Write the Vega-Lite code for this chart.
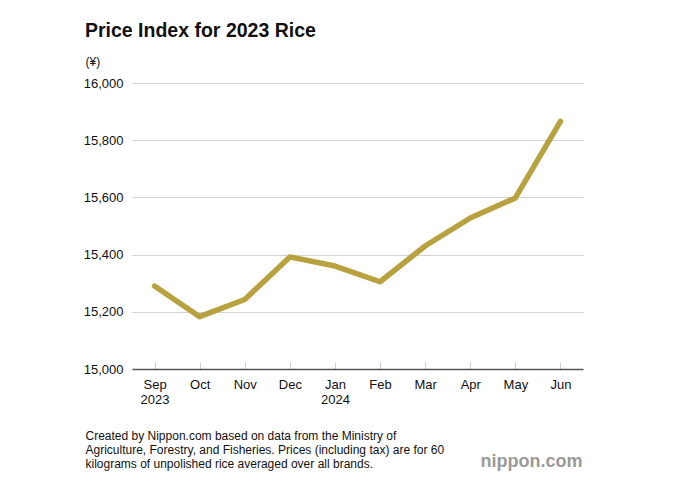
{
  "$schema": "https://vega.github.io/schema/vega-lite/v6.json",
  "autosize": {"type": "none"},
  "width": 451,
  "height": 286,
  "padding": {"left": 132, "top": 83, "right": 92, "bottom": 109},
  "background": "white",
  "config": {
    "font": "Liberation Sans",
    "view": {"stroke": null}
  },
  "title": {
    "text": "Price Index for 2023 Rice",
    "anchor": "start",
    "frame": "group",
    "dx": -47,
    "fontSize": 19.5,
    "fontWeight": "bold",
    "color": "#111111",
    "offset": 14
  },
  "data": {
    "values": [
      {"month": "Sep", "price": 15290},
      {"month": "Oct", "price": 15183},
      {"month": "Nov", "price": 15243},
      {"month": "Dec", "price": 15392},
      {"month": "Jan", "price": 15360},
      {"month": "Feb", "price": 15305},
      {"month": "Mar", "price": 15430},
      {"month": "Apr", "price": 15528},
      {"month": "May", "price": 15598},
      {"month": "Jun", "price": 15866}
    ]
  },
  "layer": [
    {
      "mark": {"type": "line", "color": "#b8a13f", "strokeWidth": 5.5, "strokeCap": "round", "strokeJoin": "round"},
      "encoding": {
        "x": {
          "field": "month",
          "type": "ordinal",
          "sort": null,
          "scale": {"type": "point", "padding": 0.5},
          "axis": {
            "labelAngle": 0,
            "labelFontSize": 13,
            "labelColor": "#111111",
            "labelExpr": "datum.value == 'Sep' ? ['Sep', '2023'] : datum.value == 'Jan' ? ['Jan', '2024'] : datum.value",
            "labelLineHeight": 15,
            "labelBaseline": "top",
            "labelPadding": 16,
            "tickSize": -7,
            "tickColor": "#cccccc",
            "tickWidth": 1,
            "domainColor": "#555555",
            "domainWidth": 1.5,
            "grid": false,
            "title": [
              "Created by Nippon.com based on data from the Ministry of",
              "Agriculture, Forestry, and Fisheries. Prices (including tax) are for 60",
              "kilograms of unpolished rice averaged over all brands."
            ],
            "titleFontSize": 12,
            "titleFontWeight": "normal",
            "titleColor": "#111111",
            "titleAlign": "left",
            "titleAnchor": "start",
            "titleBaseline": "alphabetic",
            "titleLineHeight": 14,
            "titleX": -47,
            "titleY": 70
          }
        },
        "y": {
          "field": "price",
          "type": "quantitative",
          "scale": {"domain": [15000, 16000], "nice": false, "zero": false},
          "axis": {
            "values": [15000, 15200, 15400, 15600, 15800, 16000],
            "format": ",d",
            "labelFontSize": 13,
            "labelColor": "#111111",
            "labelPadding": 9,
            "ticks": false,
            "domain": false,
            "gridColor": "#d3d3d3",
            "gridWidth": 1,
            "title": "(¥)",
            "titleAngle": 0,
            "titleFontSize": 12,
            "titleFontWeight": "normal",
            "titleColor": "#111111",
            "titleAlign": "left",
            "titleBaseline": "middle",
            "titleX": -47,
            "titleY": -22
          }
        }
      }
    },
    {
      "data": {"values": [{"logo": "nippon.com", "month": "Jun", "price": 15000}]},
      "mark": {"type": "text", "align": "right", "baseline": "middle", "dx": 22, "dy": 93, "fontSize": 18, "color": "#9a9a9a", "fontWeight": "bold"},
      "encoding": {
        "x": {"field": "month", "type": "ordinal", "sort": null},
        "y": {"field": "price", "type": "quantitative"},
        "text": {"field": "logo"}
      }
    }
  ]
}
